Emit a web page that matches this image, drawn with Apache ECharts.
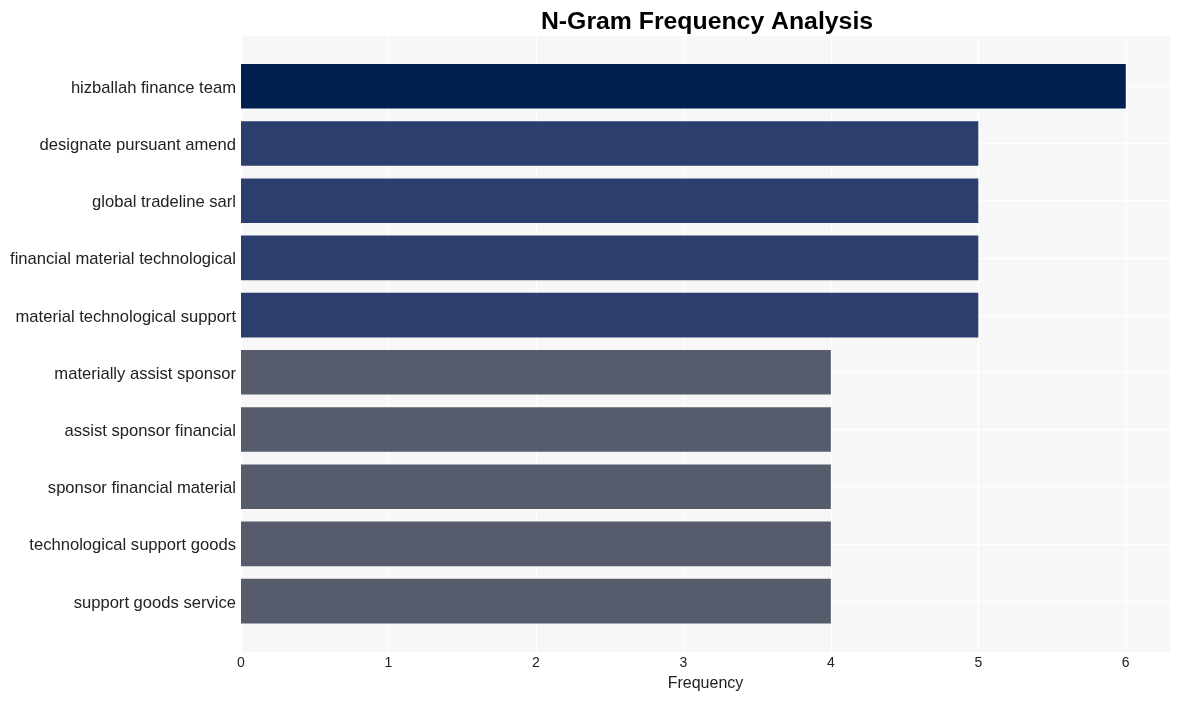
<!DOCTYPE html>
<html>
<head>
<meta charset="utf-8">
<script src="https://cdn.jsdelivr.net/npm/echarts@6/dist/echarts.min.js"></script>
<style>html,body{margin:0;padding:0;background:#fff}#c{width:1181px;height:701px}</style>
</head>
<body>
<div id="c"></div>
<script>
const categories = [
  "hizballah finance team",
  "designate pursuant amend",
  "global tradeline sarl",
  "financial material technological",
  "material technological support",
  "materially assist sponsor",
  "assist sponsor financial",
  "sponsor financial material",
  "technological support goods",
  "support goods service"
];
const values = [6, 5, 5, 5, 5, 4, 4, 4, 4, 4];
const xTicks = [0, 1, 2, 3, 4, 5, 6];

function barColor(v) {
  if (v >= 6) return "#00214f";
  if (v >= 5) return "#2c3e6e";
  return "#575c6c";
}

const FONT = "Liberation Sans, Arial, sans-serif";
const chart = echarts.init(document.getElementById("c"), null, {renderer: "canvas"});
const L = 241, R = 11;
chart.setOption({
  animation: false,
  backgroundColor: "#ffffff",
  title: {
    text: "N-Gram Frequency Analysis",
    left: 702, top: 5, textAlign: "center",
    textStyle: {fontFamily: FONT, fontSize: 24.8, fontWeight: "bold", color: "#000"}
  },
  grid: [
    {left: L, right: R, top: 36, bottom: 49, show: true, backgroundColor: "#f7f7f7", borderWidth: 0},
    {left: L, right: R, top: 57.7, bottom: 71.3},
    {left: L, right: R, top: 86.3, bottom: 99.9}
  ],
  xAxis: [
    {gridIndex: 0, type: "value", min: 0, max: 6.3, interval: 1,
     axisLine: {show: false}, axisTick: {show: false},
     axisLabel: {fontFamily: FONT, fontSize: 14, color: "#222", margin: 4,
       formatter: v => xTicks.includes(v) ? String(v) : ""},
     splitLine: {show: true, lineStyle: {color: "#ffffff", width: 1.3}},
     name: "Frequency", nameLocation: "middle", nameGap: 24,
     nameTextStyle: {fontFamily: FONT, fontSize: 16, color: "#222"}},
    {gridIndex: 1, type: "value", min: 0, max: 6.3, show: false},
    {gridIndex: 2, type: "value", min: 0, max: 6.3, show: false}
  ],
  yAxis: [
    {gridIndex: 0, type: "value", show: false},
    {gridIndex: 1, type: "category", data: categories, inverse: true,
     axisLine: {show: false}, axisTick: {show: false}, splitLine: {show: false},
     axisLabel: {margin: 5, formatter: v => "{a|" + v + "}",
       rich: {a: {fontFamily: FONT, fontSize: 16.6, color: "#222", padding: [4, 0, 0, 0]}}}},
    {gridIndex: 2, type: "category", data: categories, inverse: true, boundaryGap: false,
     axisLine: {show: false}, axisTick: {show: false}, axisLabel: {show: false},
     splitLine: {show: true, lineStyle: {color: "#ffffff", width: 1.3}}}
  ],
  series: [
    {type: "bar", xAxisIndex: 1, yAxisIndex: 1, z: 5,
     barCategoryGap: "22%",
     data: values.map(v => ({value: v, itemStyle: {color: barColor(v)}}))}
  ]
});
</script>
</body>
</html>
